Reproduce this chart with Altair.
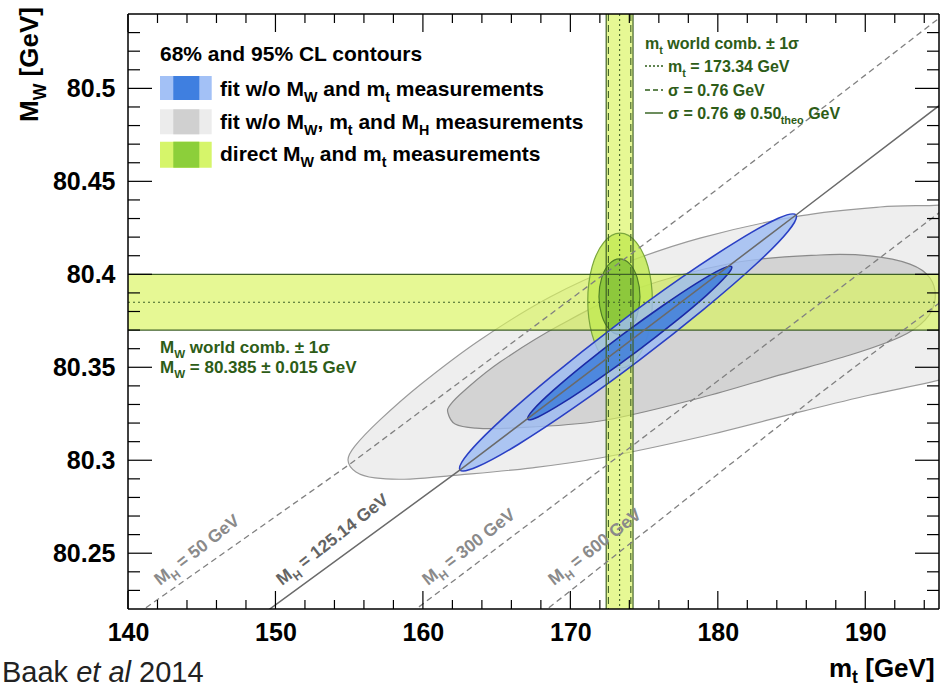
import altair as alt
import pandas as pd

# ---------------------------------------------------------------- geometry
W, H = 811, 595            # plot area (pixels)
PAD_L, PAD_T = 128, 14     # plot origin inside the 941 x 689 canvas
FONT = "Liberation Sans"

# ---------------------------------------------------------------- axes
mt_range = [140, 195]
mw_range = [80.22, 80.54]
mt_major = [140, 150, 160, 170, 180, 190]
mt_minor = [142, 144, 146, 148, 152, 154, 156, 158, 162, 164, 166, 168,
            172, 174, 176, 178, 182, 184, 186, 188, 192, 194]
mw_major = [80.25, 80.30, 80.35, 80.40, 80.45, 80.50]
mw_minor = [80.23, 80.24, 80.26, 80.27, 80.28, 80.29, 80.31, 80.32, 80.33,
            80.34, 80.36, 80.37, 80.38, 80.39, 80.41, 80.42, 80.43, 80.44,
            80.46, 80.47, 80.48, 80.49, 80.51, 80.52, 80.53]

# ---------------------------------------------------------------- fit contours (m_t, M_W)
# fit w/o M_W, m_t and M_H : 95% and 68% CL
gray95_mt = [154.92, 155.46, 156.75, 159.13, 162.52, 167.26, 172.01, 178.79, 185.57,
             190.32, 195.07, 199.14, 203.21, 205.24, 204.56, 201.85, 197.78, 195.07,
             191.00, 185.57, 178.79, 173.37, 168.62, 163.87, 159.80, 157.09, 155.40]
gray95_mw = [80.3001, 80.2937, 80.2905, 80.2899, 80.2921, 80.2958, 80.3012, 80.3125, 80.3260,
             80.3351, 80.3432, 80.3528, 80.3674, 80.3862, 80.4131, 80.4319, 80.4400, 80.4373,
             80.4362, 80.4314, 80.4195, 80.4050, 80.3878, 80.3647, 80.3405, 80.3217, 80.3077]
gray68_mt = [161.70, 162.18, 163.53, 165.91, 172.01, 178.79, 184.22, 188.97, 192.36, 194.05,
             194.73, 194.39, 193.03, 190.32, 186.93, 181.03, 174.25, 169.30, 165.23, 162.86, 161.84]
gray68_mw = [80.3254, 80.3195, 80.3173, 80.3173, 80.3211, 80.3335, 80.3459, 80.3566, 80.3663, 80.3754,
             80.3862, 80.3980, 80.4055, 80.4099, 80.4104, 80.4061, 80.3916, 80.3727, 80.3528, 80.3378, 80.3297]

# fit w/o M_W and m_t : 95% and 68% CL
blue95_mt = [185.30, 184.77, 182.58, 179.06, 174.77, 170.34, 166.46, 163.72,
             162.52, 163.05, 165.24, 168.76, 173.05, 177.48, 181.36, 184.10]
blue95_mw = [80.4319, 80.4232, 80.4054, 80.3813, 80.3544, 80.3288, 80.3085, 80.2966,
             80.2948, 80.3035, 80.3212, 80.3454, 80.3723, 80.3979, 80.4181, 80.4301]
blue68_mt = [180.94, 180.58, 179.23, 177.09, 174.47, 171.79, 169.45, 167.81,
             167.11, 167.47, 168.82, 170.96, 173.58, 176.26, 178.60, 180.24]
blue68_mw = [80.4041, 80.3992, 80.3887, 80.3744, 80.3583, 80.3430, 80.3307, 80.3233,
             80.3220, 80.3270, 80.3374, 80.3517, 80.3678, 80.3831, 80.3954, 80.4028]

# direct M_W and m_t measurements : 95% and 68% CL
green95_mt = [175.56, 175.27, 174.47, 173.37, 172.27, 171.47,
              171.18, 171.47, 172.27, 173.37, 174.47, 175.27]
green95_mw = [80.3858, 80.4040, 80.4172, 80.4221, 80.4172, 80.4040,
              80.3858, 80.3677, 80.3544, 80.3495, 80.3544, 80.3677]
green68_mt = [174.72, 174.53, 174.03, 173.33, 172.64, 172.13,
              171.94, 172.13, 172.64, 173.33, 174.03, 174.53]
green68_mw = [80.3880, 80.3982, 80.4056, 80.4083, 80.4056, 80.3982,
              80.3880, 80.3779, 80.3704, 80.3677, 80.3704, 80.3779]

# ---------------------------------------------------------------- world combinations
mt_world, mt_sigma_exp, mt_sigma_theo = 173.34, 0.76, 0.50
mw_world, mw_sigma = 80.385, 0.015
mt_sigma_tot = (mt_sigma_exp ** 2 + mt_sigma_theo ** 2) ** 0.5

# ---------------------------------------------------------------- SM predictions at fixed M_H
mh50_mt = [140.14, 140.83, 155.08, 179.02, 194.85, 196.09]
mh50_mw = [80.2141, 80.2185, 80.2981, 80.4400, 80.5368, 80.5465]
mh125_mt = [148.27, 149.36, 162.52, 185.30, 195.07, 196.09]
mh125_mw = [80.2122, 80.2185, 80.2948, 80.4319, 80.4911, 80.4975]
mh300_mt = [158.11, 159.29, 172.59, 186.93, 196.09]
mh300_mw = [80.2114, 80.2185, 80.2981, 80.3844, 80.4396]
mh600_mt = [166.92, 168.04, 176.76, 186.93, 196.09]
mh600_mw = [80.2109, 80.2175, 80.2722, 80.3360, 80.3910]

# ---------------------------------------------------------------- helpers
ONE = pd.DataFrame({"k": [0]})

x_axis = alt.Axis(values=mt_major, format="d", ticks=False, tickSize=0, domain=False,
                  grid=False, labelFont=FONT, labelFontWeight="bold", labelFontSize=25,
                  labelColor="black", labelPadding=11, labelFlush=False,
                  labelOverlap=False, title=None)
y_axis = alt.Axis(values=mw_major, format=".2~f", ticks=False, tickSize=0, domain=False,
                  grid=False, labelFont=FONT, labelFontWeight="bold", labelFontSize=25,
                  labelColor="black", labelPadding=13, labelFlush=False,
                  labelOverlap=False, title=None)


def X(field):
    return alt.X(f"{field}:Q", scale=alt.Scale(domain=mt_range, nice=False, zero=False), axis=x_axis)


def Y(field):
    return alt.Y(f"{field}:Q", scale=alt.Scale(domain=mw_range, nice=False, zero=False), axis=y_axis)


def px(x):
    return x - PAD_L


def py(y):
    return y - PAD_T


def contour(mt, mw, fill, stroke, fop, sw=1.4):
    df = pd.DataFrame({"mt": mt, "mw": mw, "i": list(range(len(mt)))})
    return alt.Chart(df).mark_line(
        interpolate="cardinal-closed", fill=fill, fillOpacity=fop,
        stroke=stroke, strokeWidth=sw, clip=True,
    ).encode(x=X("mt"), y=Y("mw"), order=alt.Order("i:Q"))


def mh_line(mt, mw, color, dash=None, sw=1.3):
    df = pd.DataFrame({"mt": mt, "mw": mw, "i": list(range(len(mt)))})
    kw = dict(color=color, strokeWidth=sw, clip=True)
    if dash:
        kw["strokeDash"] = dash
    return alt.Chart(df).mark_line(**kw).encode(x=X("mt"), y=Y("mw"), order=alt.Order("i:Q"))


def vrule(vals, color, dash=None, sw=1.2):
    kw = dict(color=color, strokeWidth=sw)
    if dash:
        kw["strokeDash"] = dash
    return alt.Chart(pd.DataFrame({"v": vals})).mark_rule(**kw).encode(
        x=X("v"), y=alt.value(0), y2=alt.value(H))


def hrule(vals, color, dash=None, sw=1.2):
    kw = dict(color=color, strokeWidth=sw)
    if dash:
        kw["strokeDash"] = dash
    return alt.Chart(pd.DataFrame({"v": vals})).mark_rule(**kw).encode(
        y=Y("v"), x=alt.value(0), x2=alt.value(W))


def xticks(vals, length, top):
    y0, y1 = (0, length) if top else (H, H - length)
    return alt.Chart(pd.DataFrame({"v": vals})).mark_rule(color="black", strokeWidth=1.2).encode(
        x=X("v"), y=alt.value(y0), y2=alt.value(y1))


def yticks(vals, length, right):
    x0, x1 = (W, W - length) if right else (0, length)
    return alt.Chart(pd.DataFrame({"v": vals})).mark_rule(color="black", strokeWidth=1.2).encode(
        y=Y("v"), x=alt.value(x0), x2=alt.value(x1))


def box(x1, x2, y1, y2, color):
    return alt.Chart(ONE).mark_rect(color=color).encode(
        x=alt.value(px(x1)), x2=alt.value(px(x2)), y=alt.value(py(y1)), y2=alt.value(py(y2)))


def seg(x1, x2, y, color, dash=None, sw=1.3):
    kw = dict(color=color, strokeWidth=sw)
    if dash:
        kw["strokeDash"] = dash
    return alt.Chart(ONE).mark_rule(**kw).encode(
        x=alt.value(px(x1)), x2=alt.value(px(x2)), y=alt.value(py(y)))


def vseg(x, y1, y2, color, sw=1.5):
    return alt.Chart(ONE).mark_rule(color=color, strokeWidth=sw).encode(
        x=alt.value(px(x)), y=alt.value(py(y1)), y2=alt.value(py(y2)))


# Helvetica / Arial advance widths (1/1000 em) for laying out sub-scripted text
BOLD_W = {" ": 278, "%": 889, ".": 278, ",": 278, "/": 278, "=": 584, "±": 584,
          "[": 333, "]": 333, "B": 722, "C": 722, "G": 778, "H": 722, "L": 611,
          "M": 833, "V": 667, "W": 944, "a": 556, "b": 611, "c": 556, "d": 611,
          "e": 556, "f": 333, "h": 611, "i": 278, "k": 556, "l": 278, "m": 889,
          "n": 611, "o": 611, "r": 389, "s": 556, "t": 333, "u": 611, "w": 778,
          "σ": 620, "⊕": 838}
REG_W = {" ": 278, ".": 278, "B": 667, "a": 556, "k": 500, "e": 556, "t": 278, "l": 222}


def text_width(s, size, bold):
    table = BOLD_W if bold else REG_W
    return sum(table.get(c, 556) for c in s) * size / 1000.0


def rich(parts, x, y, size, color, bold=True, angle=0, sub_drop=0.3):
    """Text made of pieces; kind 'n' normal, 'sub' subscript, 'it' italic."""
    out = []
    off = 0.0
    for txt, kind in parts:
        sub = kind == "sub"
        fs = size * 0.68 if sub else size
        body = txt.lstrip()
        lead = text_width(txt[: len(txt) - len(body)], fs, bold)
        props = dict(text=body.rstrip(), align="left", baseline="alphabetic", font=FONT,
                     fontSize=fs, fontWeight="bold" if bold else "normal",
                     fontStyle="italic" if kind == "it" else "normal", color=color,
                     dx=off + lead, dy=size * sub_drop if sub else 0)
        if angle:
            props["angle"] = angle
        out.append(alt.Chart(ONE).mark_text(**props).encode(
            x=alt.value(px(x)), y=alt.value(py(y))))
        off += text_width(txt, fs, bold)
    return out


# ---------------------------------------------------------------- colours
BAND = "#d9f45a"
BAND_LINE = "#3f6127"
GREEN_TXT = "#2d5c17"

layers = []

# grey fit contours
layers.append(contour(gray95_mt, gray95_mw, "#eeeeee", "#9a9a9a", 1.0, 1.2))
layers.append(contour(gray68_mt, gray68_mw, "#d3d3d3", "#8a8a8a", 1.0, 1.2))

# world-average bands
layers.append(alt.Chart(pd.DataFrame({"lo": [mw_world - mw_sigma], "hi": [mw_world + mw_sigma]}))
              .mark_rect(color=BAND, opacity=0.65)
              .encode(y=Y("lo"), y2="hi:Q", x=alt.value(0), x2=alt.value(W)))
layers.append(alt.Chart(pd.DataFrame({"lo": [mt_world - mt_sigma_tot], "hi": [mt_world + mt_sigma_tot]}))
              .mark_rect(color=BAND, opacity=0.65)
              .encode(x=X("lo"), x2="hi:Q", y=alt.value(0), y2=alt.value(H)))

# direct-measurement contours
layers.append(contour(green95_mt, green95_mw, "#c3ea55", "#7aa63c", 0.85, 1.2))
layers.append(contour(green68_mt, green68_mw, "#86c43a", "#4f7f27", 0.9, 1.2))

# indirect fit contours
layers.append(contour(blue95_mt, blue95_mw, "#9dbcf3", "#2a3fc4", 0.82, 1.6))
layers.append(contour(blue68_mt, blue68_mw, "#3e7edb", "#1b2aa6", 0.85, 1.6))

# band edges and centres
layers.append(hrule([mw_world - mw_sigma, mw_world + mw_sigma], BAND_LINE))
layers.append(hrule([mw_world], BAND_LINE, dash=[2, 3], sw=1.1))
layers.append(vrule([mt_world - mt_sigma_tot, mt_world + mt_sigma_tot], BAND_LINE))
layers.append(vrule([mt_world - mt_sigma_exp, mt_world + mt_sigma_exp], BAND_LINE, dash=[7, 4], sw=1.1))
layers.append(vrule([mt_world], BAND_LINE, dash=[2, 3], sw=1.1))

# fixed-M_H lines
layers.append(mh_line(mh50_mt, mh50_mw, "#808080", dash=[6, 4]))
layers.append(mh_line(mh125_mt, mh125_mw, "#6a6a6a", sw=1.5))
layers.append(mh_line(mh300_mt, mh300_mw, "#808080", dash=[6, 4]))
layers.append(mh_line(mh600_mt, mh600_mw, "#808080", dash=[6, 4]))

# ticks on all four sides, pointing inwards
layers += [xticks(mt_major, 18, False), xticks(mt_minor, 9, False),
           xticks(mt_major, 18, True), xticks(mt_minor, 9, True),
           yticks(mw_major, 24, False), yticks(mw_minor, 12, False),
           yticks(mw_major, 24, True), yticks(mw_minor, 12, True)]

# frame
layers += [seg(PAD_L, PAD_L + W, PAD_T, "black", sw=1.5),
           seg(PAD_L, PAD_L + W, PAD_T + H, "black", sw=1.5),
           vseg(PAD_L, PAD_T, PAD_T + H, "black"),
           vseg(PAD_L + W, PAD_T, PAD_T + H, "black")]

# legend
layers += rich([("68% and 95% CL contours", "n")], 160, 60.7, 21, "black")
layers += [box(160, 211.7, 76, 100, "#a3c1f6"), box(173.3, 199.3, 76, 100, "#3f7fe0"),
           box(160, 211.7, 109.3, 134.3, "#ececec"), box(173.3, 199.3, 109.3, 134.3, "#d0d0d0"),
           box(160, 211.7, 141.7, 167.7, "#d6f56a"), box(173.3, 199.3, 141.7, 167.7, "#8ccf3a")]
layers += rich([("fit w/o M", "n"), ("W", "sub"), (" and m", "n"), ("t", "sub"),
                (" measurements", "n")], 220, 96, 21, "black")
layers += rich([("fit w/o M", "n"), ("W", "sub"), (", m", "n"), ("t", "sub"), (" and M", "n"),
                ("H", "sub"), (" measurements", "n")], 220, 128.5, 21, "black")
layers += rich([("direct M", "n"), ("W", "sub"), (" and m", "n"), ("t", "sub"),
                (" measurements", "n")], 220, 161, 21, "black")

# m_t world combination box
layers += rich([("m", "n"), ("t", "sub"), (" world comb. ± 1σ", "n")], 645, 49, 16, GREEN_TXT)
layers += [seg(645, 663, 66, GREEN_TXT, dash=[2, 2], sw=1.4),
           seg(645, 663, 90, GREEN_TXT, dash=[5, 3], sw=1.4),
           seg(645, 663, 113, GREEN_TXT, sw=1.4)]
layers += rich([("m", "n"), ("t", "sub"), (" = 173.34 GeV", "n")], 668, 72, 16, GREEN_TXT)
layers += rich([("σ = 0.76 GeV", "n")], 668, 96, 16, GREEN_TXT)
layers += rich([("σ = 0.76 ⊕ 0.50", "n"), ("theo", "sub"), (" GeV", "n")], 668, 119, 16, GREEN_TXT)

# M_W world combination text
layers += rich([("M", "n"), ("W", "sub"), (" world comb. ± 1σ", "n")], 160, 353, 17, GREEN_TXT)
layers += rich([("M", "n"), ("W", "sub"), (" = 80.385 ± 0.015 GeV", "n")], 160, 373, 17, GREEN_TXT)

# fixed-M_H labels along the lines
for x0, label, col in [(160, " = 50 GeV", "#8a8a8a"), (282, " = 125.14 GeV", "#646464"),
                       (428, " = 300 GeV", "#8a8a8a"), (554, " = 600 GeV", "#8a8a8a")]:
    layers += rich([("M", "n"), ("H", "sub"), (label, "n")], x0, 586, 17.5, col, angle=322)

# axis titles and credit
layers += rich([("M", "n"), ("W", "sub"), (" [GeV]", "n")], 38, 122, 26, "black", angle=270)
layers += rich([("m", "n"), ("t", "sub"), (" [GeV]", "n")], 829, 677, 26, "black", sub_drop=0.22)
layers += rich([("Baak ", "n"), ("et al", "it"), (" 2014", "n")], 2, 682, 29, "#222222", bold=False)

chart = alt.layer(*layers).properties(
    width=W, height=H,
    autosize=alt.AutoSizeParams(type="none"),
    padding={"left": PAD_L, "top": PAD_T, "right": 941 - PAD_L - W, "bottom": 689 - PAD_T - H},
).configure_view(stroke=None)

chart.save("out.html", embed_options={"renderer": "svg", "actions": False})
